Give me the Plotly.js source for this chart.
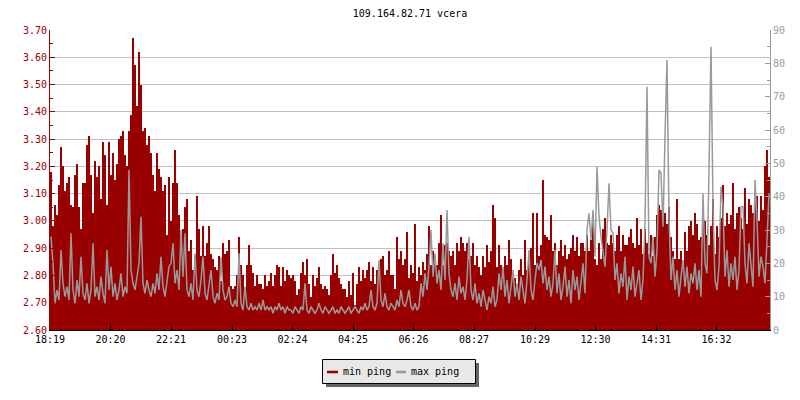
<!DOCTYPE html>
<html>
<head>
<meta charset="utf-8">
<script src="https://cdn.plot.ly/plotly-3.0.1.min.js"></script>
<style>html,body{margin:0;padding:0;background:#fff;}#chart{width:800px;height:400px;}</style>
</head>
<body>
<div id="chart"></div>
<script>
// ---- data ----
var chartTitle = "109.164.82.71 vcera";
var seriesNames = ["min ping", "max ping"];
var tickLabels = ["18:19","20:20","22:21","00:23","02:24","04:25","06:26","08:27","10:29","12:30","14:31","16:32"];
var sampleStepMin = 4;   // one sample every 4 minutes over 24 h

// min ping (left axis), one value per sample
var minPing = [
3.18,2.98,3.06,3.02,3.13,3.27,3.20,3.11,3.14,3.16,3.06,3.05,3.17,3.21,3.05,2.97,3.14,3.14,3.28,3.31,
3.17,3.03,3.22,3.16,3.20,3.08,3.29,3.24,3.06,3.29,3.17,3.25,3.15,3.21,3.30,3.31,3.33,3.24,3.20,3.33,
3.39,3.67,3.57,3.42,3.62,3.50,3.33,3.34,3.28,3.31,3.25,3.17,3.11,3.25,3.19,3.16,3.11,3.13,2.95,3.16,
3.00,3.14,3.26,3.14,3.02,2.91,2.97,3.05,3.08,2.89,2.93,2.82,2.87,3.09,2.97,2.87,2.98,2.87,2.92,2.98,
2.88,2.86,2.83,2.82,2.87,2.78,2.92,2.88,2.89,2.93,2.76,2.75,2.76,2.80,2.94,2.84,2.80,2.75,2.84,2.91,
2.84,2.81,2.76,2.80,2.77,2.77,2.75,2.80,2.76,2.78,2.81,2.76,2.80,2.84,2.83,2.76,2.83,2.78,2.82,2.80,
2.79,2.80,2.78,2.73,2.75,2.81,2.85,2.80,2.86,2.77,2.72,2.80,2.76,2.79,2.83,2.77,2.75,2.76,2.75,2.73,
2.80,2.88,2.81,2.84,2.79,2.77,2.75,2.75,2.72,2.78,2.73,2.81,2.69,2.77,2.83,2.78,2.82,2.79,2.82,2.85,
2.78,2.83,2.77,2.82,2.84,2.86,2.87,2.80,2.82,2.89,2.80,2.80,2.75,2.94,2.86,2.89,2.84,2.86,2.96,2.79,
2.84,2.81,2.99,2.78,2.83,2.80,2.85,2.82,2.88,2.98,2.84,2.89,2.86,2.84,2.92,3.02,2.84,2.91,2.92,2.89,
2.87,2.89,2.84,2.92,2.89,2.94,2.92,2.89,2.92,2.86,2.87,2.92,2.84,2.87,2.83,2.80,2.87,2.83,2.91,2.85,
2.89,3.06,3.01,2.83,2.91,2.84,2.82,2.87,2.84,2.93,2.86,2.80,2.79,2.76,2.82,2.86,2.80,2.93,2.82,2.86,
2.90,3.03,2.84,3.03,2.87,2.91,3.15,2.95,2.94,2.93,3.02,2.89,2.92,2.84,2.89,2.93,2.87,2.91,2.86,2.88,
2.90,2.95,2.89,2.94,2.87,2.92,2.92,2.89,2.95,2.89,2.93,3.03,2.86,2.84,2.92,2.86,2.97,3.01,2.92,2.91,
2.95,2.92,2.89,2.95,2.98,2.89,2.95,2.91,2.91,2.94,2.97,2.92,2.90,3.01,2.91,2.97,2.88,2.97,2.92,2.88,
2.95,2.87,2.94,3.02,3.06,3.04,3.04,3.03,2.99,3.05,2.94,2.89,2.86,3.08,2.86,2.89,2.84,2.96,2.89,2.98,
3.00,2.95,3.03,2.99,2.93,2.94,2.99,3.00,2.95,2.91,2.98,3.08,2.88,2.98,2.94,3.01,3.13,2.98,3.03,2.99,
3.02,3.14,2.97,3.03,3.05,3.01,2.97,3.12,2.99,3.08,3.06,3.03,3.08,3.09,3.00,3.09,3.04,3.20,3.26,3.16
];

// max ping (right axis), one value per sample
var maxPing = [
28,20,8,12,9,24,14,10,13,9,29,12,8,15,10,22,11,9,14,8,
12,26,10,13,9,16,11,8,24,12,19,10,14,9,12,17,10,13,11,48,
18,14,12,16,20,34,14,11,15,12,10,14,11,17,12,22,13,10,14,19,
20,26,14,18,12,30,16,29,12,10,14,9,23,12,10,15,22,11,9,13,
18,10,8,11,9,22,12,9,10,13,8,7,9,7,23,8,6,13,7,6,
8,6,7,6,8,6,9,6,7,6,7,5,7,6,8,6,7,5,7,6,
6,5,7,6,5,7,6,14,6,5,7,6,5,6,8,6,5,7,6,5,
6,7,5,6,5,7,6,5,6,7,5,6,7,6,5,7,6,8,6,7,
12,7,6,8,21,9,7,11,7,6,8,7,6,9,7,12,8,7,9,12,
7,6,8,6,7,14,10,17,12,19,30,16,23,14,18,12,26,15,36,17,
12,10,14,9,16,11,13,9,15,28,12,9,14,8,11,7,12,9,6,10,
8,13,7,9,17,12,19,10,15,8,13,18,10,14,9,16,12,8,15,24,
12,9,15,20,18,21,14,19,12,16,10,14,24,11,17,9,13,19,10,15,
8,18,12,16,9,14,20,11,30,35,27,36,22,49,34,28,24,19,30,44,
30,29,15,20,11,17,13,22,9,16,12,19,10,14,18,9,15,32,73,22,
20,28,16,24,48,47,31,58,81,34,15,22,12,18,10,16,21,13,19,11,
17,14,20,12,18,10,41,20,17,48,85,37,15,12,19,43,37,16,24,13,
20,15,22,12,18,37,37,20,14,26,18,13,45,33,16,22,19,14,27,41
];

// ---- derived ----
var RED = "#990000", GREY = "#999999";
var FONT = "DejaVu Sans Mono, monospace";
function toMin(s){ var p = s.split(":"); return (+p[0])*60 + (+p[1]); }
var t0 = toMin(tickLabels[0]);
var tickVals = tickLabels.map(function(s){ return (toMin(s) - t0 + 1440) % 1440; });
var xs = minPing.map(function(_, i){ return i*sampleStepMin + sampleStepMin/2; });
var xEnd = minPing.length * sampleStepMin;

var traces = [
  { type: "bar", x: xs, y: minPing, width: sampleStepMin, marker: { color: RED, line: { width: 0 } },
    name: seriesNames[0], showlegend: false, hoverinfo: "skip" },
  { type: "scatter", mode: "lines", x: xs, y: maxPing, yaxis: "y2",
    line: { color: GREY, width: 1.5, shape: "linear" }, name: seriesNames[1], showlegend: false, hoverinfo: "skip" }
];

// helpers for legend placement (pixel -> paper)
function px(x){ return (x - 50) / 720; }
function py(y){ return (330 - y) / 300; }

var layout = {
  width: 800, height: 400,
  margin: { l: 50, r: 30, t: 30, b: 70, pad: 0 },
  paper_bgcolor: "#ffffff", plot_bgcolor: "#ffffff",
  bargap: 0,
  showlegend: false,
  title: { text: chartTitle, font: { family: FONT, size: 10, color: "#000" },
           x: 0.5, xref: "paper", xanchor: "center", y: 1 - 13/400, yanchor: "middle" },
  xaxis: {
    range: [0, xEnd], tickmode: "array", tickvals: tickVals, ticktext: tickLabels,
    ticks: "inside", ticklen: 5, tickcolor: "#000", tickwidth: 1,
    showline: true, linecolor: "#000", linewidth: 1,
    showgrid: false, zeroline: false,
    tickfont: { family: FONT, size: 10, color: "#000" }
  },
  yaxis: {
    range: [2.6, 3.7], dtick: 0.1, tick0: 2.6, tickformat: ".2f",
    ticks: "inside", ticklen: 5, tickcolor: RED, tickwidth: 1,
    showline: true, linecolor: RED, linewidth: 1,
    showgrid: true, gridcolor: "#c0c0c0", gridwidth: 1, zeroline: false,
    tickfont: { family: FONT, size: 10, color: RED },
    minor: { dtick: 0.05, tick0: 2.6, ticks: "inside", ticklen: 3, tickcolor: RED, showgrid: false }
  },
  yaxis2: {
    overlaying: "y", side: "right", range: [0, 90], dtick: 10, tick0: 0,
    ticks: "inside", ticklen: 5, tickcolor: GREY, tickwidth: 1,
    showline: true, linecolor: GREY, linewidth: 1,
    showgrid: false, zeroline: false,
    tickfont: { family: FONT, size: 10, color: GREY },
    minor: { dtick: 5, tick0: 0, ticks: "inside", ticklen: 3, tickcolor: GREY, showgrid: false }
  },
  shapes: [
    { type: "rect", xref: "paper", yref: "paper", x0: px(326), x1: px(479), y0: py(387), y1: py(363),
      fillcolor: "#666666", line: { width: 0 } },
    { type: "rect", xref: "paper", yref: "paper", x0: px(322.5), x1: px(475.5), y0: py(383.5), y1: py(359.5),
      fillcolor: "#e8e8e8", line: { color: "#000", width: 1 } },
    { type: "line", xref: "paper", yref: "paper", x0: px(327), x1: px(338), y0: py(372), y1: py(372),
      line: { color: RED, width: 2.5 } },
    { type: "line", xref: "paper", yref: "paper", x0: px(396), x1: px(406), y0: py(372), y1: py(372),
      line: { color: GREY, width: 2.5 } }
  ],
  annotations: [
    { text: seriesNames[0], xref: "paper", yref: "paper", x: px(340.5), y: py(371), xanchor: "left", yanchor: "middle",
      showarrow: false, font: { family: FONT, size: 10, color: "#000" } },
    { text: seriesNames[1], xref: "paper", yref: "paper", x: px(409), y: py(371), xanchor: "left", yanchor: "middle",
      showarrow: false, font: { family: FONT, size: 10, color: "#000" } }
  ]
};

Plotly.newPlot("chart", traces, layout, { staticPlot: true, displayModeBar: false });
</script>
</body>
</html>
